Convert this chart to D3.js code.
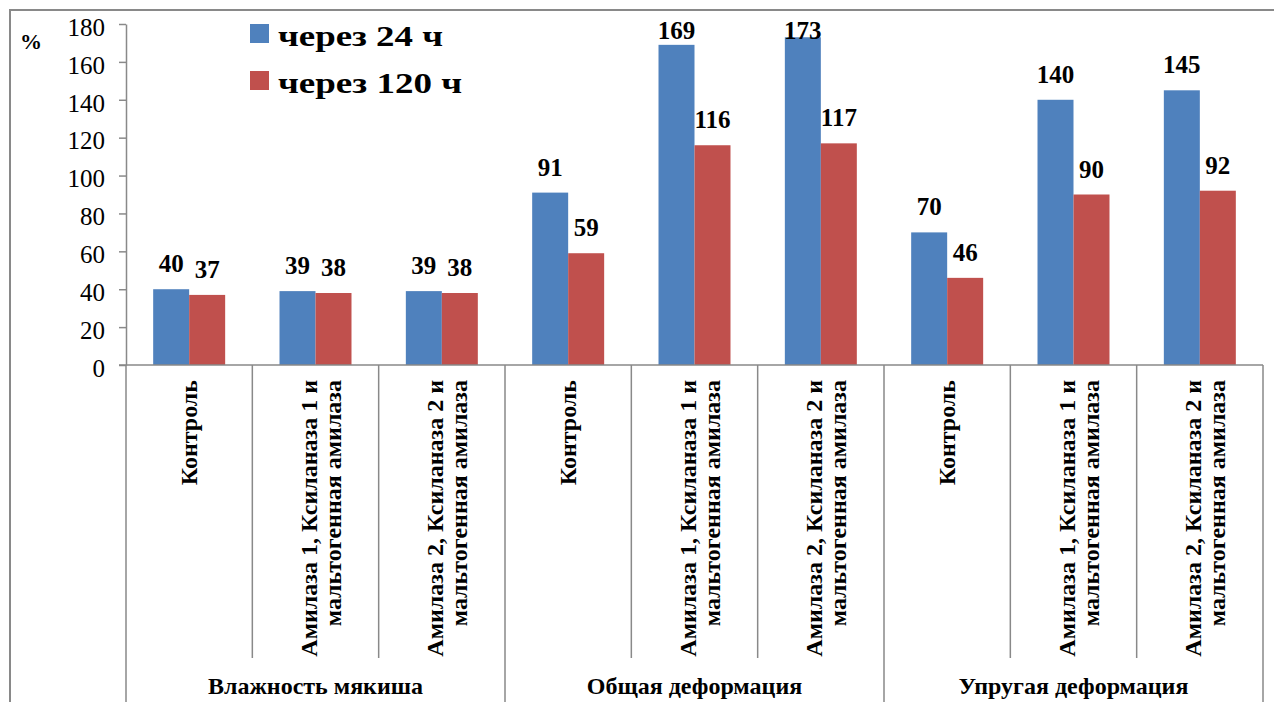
<!DOCTYPE html>
<html>
<head>
<meta charset="utf-8">
<script src="https://cdn.jsdelivr.net/npm/d3@7"></script>
<style>
    body { margin: 0; background: #fff; }
    svg { display: block; }
    text { font-family: "Liberation Serif", "Times New Roman", serif; fill: #000; }
</style>
</head>
<body>
<div id="chart"></div>
<script>
// data
var groups = ["Влажность мякиша", "Общая деформация", "Упругая деформация"];
var treatments = ["Контроль", "Амилаза 1, Ксиланаза 1 и\nмальтогенная амилаза", "Амилаза 2, Ксиланаза 2 и\nмальтогенная амилаза"];
var seriesNames = ["через 24 ч", "через 120 ч"];
var after24 = [40, 39, 39, 91, 169, 173, 70, 140, 145];
var after120 = [37, 38, 38, 59, 116, 117, 46, 90, 92];
var yTicks = [0, 20, 40, 60, 80, 100, 120, 140, 160, 180];

var colors = ["#4f81bd", "#c0504d"];
var gridGray = "#898989";

var W = 1274, H = 702;
var plotLeft = 126, plotRight = 1263, plotTop = 24, plotBottom = 365;

// one entry per category (group x treatment)
var cats = [];
groups.forEach(function(g, gi) {
    treatments.forEach(function(t, ti) {
        cats.push({ id: gi * treatments.length + ti, group: g, label: t });
    });
});

var svg = d3.select("#chart").append("svg")
    .attr("width", W)
    .attr("height", H);

// outer frame of the chart
svg.append("path")
    .attr("d", "M10," + H + "V10H" + W)
    .attr("fill", "none")
    .attr("stroke", gridGray)
    .attr("stroke-width", 2);

var x = d3.scaleBand()
    .domain(cats.map(function(d) { return d.id; }))
    .range([plotLeft, plotRight]);

var xSub = d3.scaleBand()
    .domain([0, 1])
    .range([0, x.bandwidth()])
    .paddingOuter(0.755);

var y = d3.scaleLinear()
    .domain([0, 180])
    .range([plotBottom, plotTop]);

// y axis
var yAxis = d3.axisLeft(y)
    .tickValues(yTicks)
    .tickSize(7)
    .tickPadding(14)
    .tickSizeOuter(0);

var yg = svg.append("g")
    .attr("transform", "translate(" + plotLeft + ",0)")
    .call(yAxis);
yg.select(".domain").attr("stroke", gridGray).attr("stroke-width", 1.5);
yg.selectAll(".tick line").attr("stroke", gridGray).attr("stroke-width", 1.5);
yg.selectAll(".tick text")
    .attr("font-family", "Liberation Serif")
    .attr("font-size", 25)
    .attr("dy", "0.45em");

svg.append("text")
    .attr("x", 20)
    .attr("y", 49)
    .attr("font-size", 22)
    .attr("font-weight", "bold")
    .text("%");

// bars
var series = [after24, after120];
series.forEach(function(vals, si) {
    svg.append("g").selectAll("rect")
        .data(cats)
        .enter().append("rect")
        .attr("x", function(d) { return x(d.id) + xSub(si); })
        .attr("width", xSub.bandwidth())
        .attr("y", function(d) { return y(vals[d.id]); })
        .attr("height", function(d) { return y(0) - y(vals[d.id]); })
        .attr("fill", colors[si]);

    // value labels (kept inside the plot area like the original)
    svg.append("g").selectAll("text")
        .data(cats)
        .enter().append("text")
        .attr("x", function(d) { return x(d.id) + xSub(si) + xSub.bandwidth() / 2; })
        .attr("y", function(d) { return Math.max(39, y(vals[d.id]) - 17); })
        .attr("text-anchor", "middle")
        .attr("font-size", 25)
        .attr("font-weight", "bold")
        .text(function(d) { return vals[d.id]; });
});

// category axis
var axisG = svg.append("g");
axisG.append("line")
    .attr("x1", plotLeft - 7).attr("x2", plotRight)
    .attr("y1", plotBottom).attr("y2", plotBottom)
    .attr("stroke", gridGray).attr("stroke-width", 1.5);

var bounds = d3.range(cats.length + 1);
axisG.selectAll(".sep")
    .data(bounds)
    .enter().append("line")
    .attr("class", "sep")
    .attr("x1", function(i) { return plotLeft + i * x.step(); })
    .attr("x2", function(i) { return plotLeft + i * x.step(); })
    .attr("y1", plotBottom)
    .attr("y2", function(i) { return i % treatments.length === 0 ? H : 658; })
    .attr("stroke", gridGray)
    .attr("stroke-width", 1.5);

// rotated treatment labels
var labelG = axisG.selectAll(".cat-label")
    .data(cats)
    .enter().append("text")
    .attr("class", "cat-label")
    .attr("font-size", 24)
    .attr("font-weight", "bold")
    .attr("text-anchor", "end")
    .attr("transform", function(d) {
        var cx = x(d.id) + x.bandwidth() / 2;
        return "translate(" + cx + ",380) rotate(-90)";
    });

labelG.each(function(d) {
    var lines = d.label.split("\n");
    var t = d3.select(this);
    lines.forEach(function(line, li) {
        var off = lines.length === 1 ? 8 : 1 + li * 24;
        t.append("tspan")
            .attr("x", 0)
            .attr("y", off)
            .text(line);
    });
});

// group labels
axisG.selectAll(".group-label")
    .data(groups)
    .enter().append("text")
    .attr("class", "group-label")
    .attr("x", function(g, gi) { return plotLeft + (gi + 0.5) * treatments.length * x.step(); })
    .attr("y", 694)
    .attr("text-anchor", "middle")
    .attr("font-size", 24)
    .attr("font-weight", "bold")
    .text(function(g) { return g; });

// legend (the original text is drawn wide, hence textLength)
var legendWidths = [165, 184];
var legend = svg.append("g").selectAll("g")
    .data(seriesNames)
    .enter().append("g")
    .attr("transform", function(d, i) { return "translate(250," + (24 + i * 47) + ")"; });

legend.append("rect")
    .attr("width", 19)
    .attr("height", 19)
    .attr("fill", function(d, i) { return colors[i]; });

legend.append("text")
    .attr("x", 28)
    .attr("y", 22)
    .attr("font-size", 30)
    .attr("font-weight", "bold")
    .attr("textLength", function(d, i) { return legendWidths[i]; })
    .attr("lengthAdjust", "spacingAndGlyphs")
    .text(function(d) { return d; });
</script>
</body>
</html>
